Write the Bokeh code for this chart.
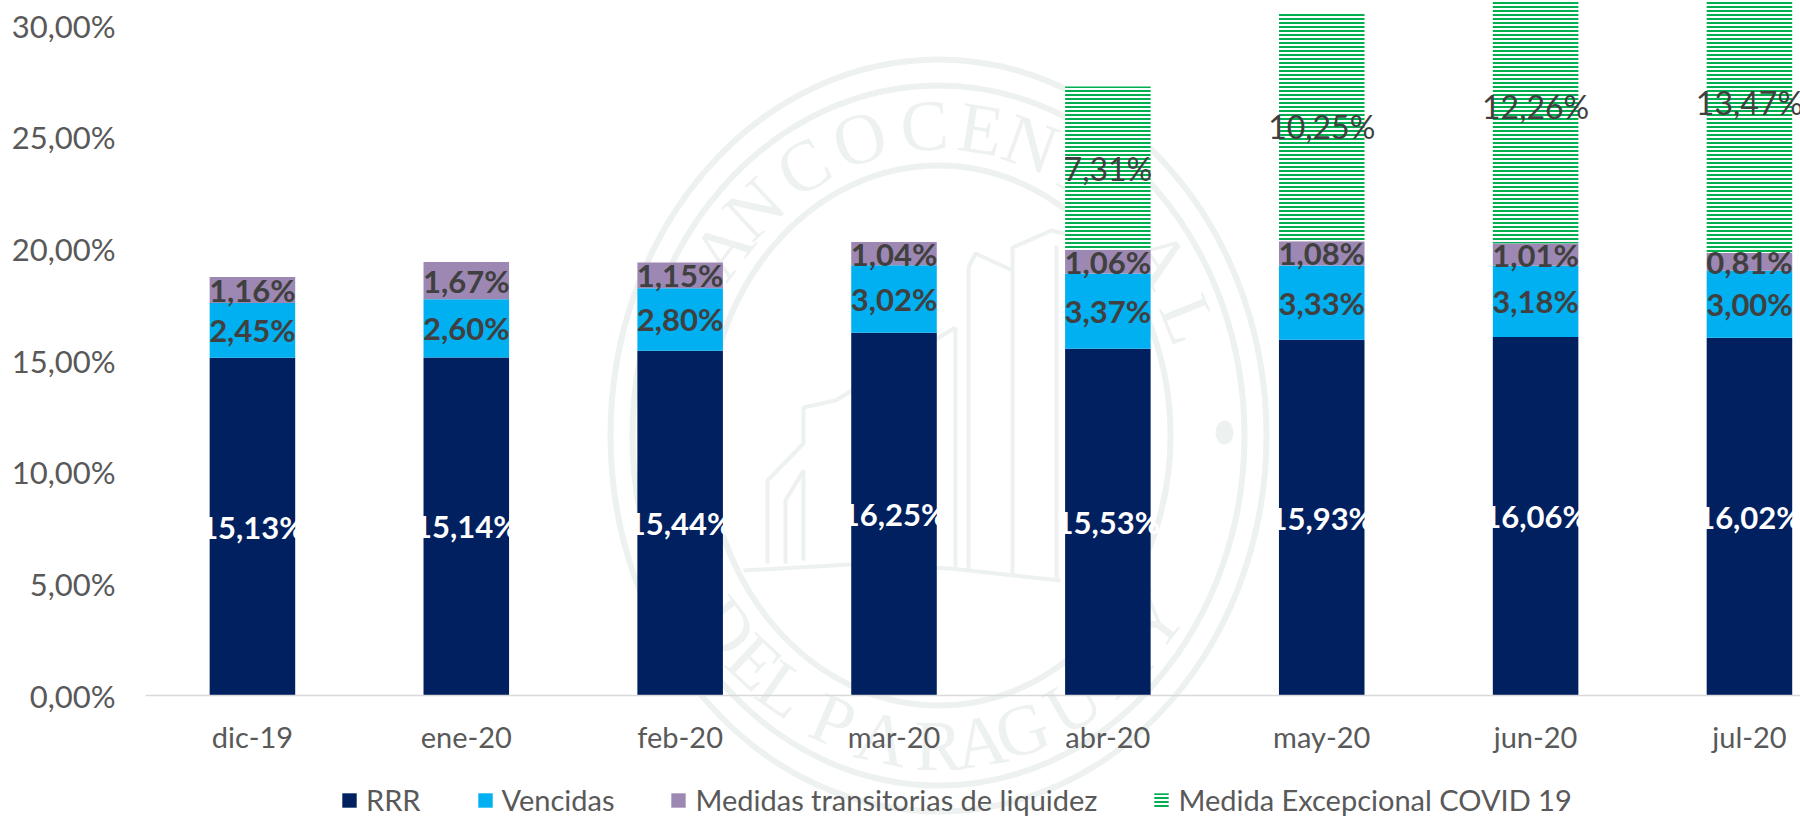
import math
from bokeh.plotting import figure
from bokeh.models import Range1d, FixedTicker, Legend, LegendItem
from bokeh.core.properties import value
from bokeh.embed import file_html
from bokeh.resources import INLINE

categories = ["dic-19", "ene-20", "feb-20", "mar-20", "abr-20", "may-20", "jun-20", "jul-20"]
rrr = [15.13, 15.14, 15.44, 16.25, 15.53, 15.93, 16.06, 16.02]
vencidas = [2.45, 2.60, 2.80, 3.02, 3.37, 3.33, 3.18, 3.00]
medidas = [1.16, 1.67, 1.15, 1.04, 1.06, 1.08, 1.01, 0.81]
covid = [0, 0, 0, 0, 7.31, 10.25, 12.26, 13.47]
y_ticks = [0, 5, 10, 15, 20, 25, 30]
FONT = "Lato"

# geometry of the plot area
W, H = 1800, 817
L_PX, T_PX = 145, 0
FW, FH = W - L_PX, H
Y0_PX, PX_PER_UNIT = 695, 22.33
BAND_PX = 213.86

x_end = FW / BAND_PX
y_end = (Y0_PX - T_PX) / PX_PER_UNIT
y_start = (Y0_PX - (T_PX + FH)) / PX_PER_UNIT

p = figure(width=W, height=H, frame_width=FW, frame_height=FH, output_backend="svg", toolbar_location=None,
           x_range=Range1d(0, x_end), y_range=Range1d(y_start, y_end),
           min_border=0, min_border_left=L_PX, outline_line_color=None, background_fill_color="white", border_fill_color="white")
p.grid.visible = False

def dx(px): return (px - L_PX) / BAND_PX
def dy(px): return (Y0_PX - px) / PX_PER_UNIT

# faint seal behind the chart
SEAL = "#EDF1F0"
CX, CY = 938, 435
for rx, ry, lw in [(328, 376, 6), (306, 350, 6), (232, 270, 6)]:
    p.ellipse(x=[dx(CX)], y=[dy(CY)], width=[2 * rx], height=[2 * ry], width_units="screen", height_units="screen",
              fill_color=None, line_color=SEAL, line_width=lw)
p.ellipse(x=[dx(1224)], y=[dy(432)], width=[18], height=[24], width_units="screen", height_units="screen",
          fill_color=SEAL, line_color=None)
top_letters = list("BANCOCENTRAL")
top_angles = [-64, -53, -43, -30, -17, -3, 9, 20, 31, 42, 55, 68]
bot_letters = list("DELPARAGUAY")
bot_angles = [-52, -43, -35, -23, -12, 0, 9, 18, 30, 42, 53]
TRX, TRY = 270, 310
sx = [dx(CX + TRX * math.sin(math.radians(t))) for t in top_angles] + [dx(CX + TRX * math.sin(math.radians(u))) for u in bot_angles]
sy = [dy(CY - TRY * math.cos(math.radians(t))) for t in top_angles] + [dy(CY + TRY * math.cos(math.radians(u))) for u in bot_angles]
sa = [-math.radians(t) for t in top_angles] + [math.radians(u) for u in bot_angles]
p.text(x=sx, y=sy, text=top_letters + bot_letters, angle=sa, text_font=value("Liberation Serif"), text_font_size="72px",
       text_color=SEAL, text_align="center", text_baseline="middle")
build = [
    [(767, 563), (767, 480), (803, 443), (803, 407), (835, 400), (955, 327)],
    [(785, 563), (785, 500), (803, 470), (803, 560)],
    [(955, 327), (955, 570)], [(968, 267), (968, 570)],
    [(968, 267), (975, 253), (1012, 270), (1012, 247), (1051, 230), (1090, 240)],
    [(1012, 270), (1012, 575)], [(1056, 245), (1056, 580)],
    [(743, 570), (850, 564), (950, 568), (1060, 580)],
]
p.multi_line(xs=[[dx(a) for a, _ in s] for s in build], ys=[[dy(b) for _, b in s] for s in build], line_color=SEAL, line_width=4)

# stacked bars
xs = [i + 0.5 for i in range(len(categories))]
b1 = [0] * len(rrr)
t1 = [a + b for a, b in zip(b1, rrr)]
t2 = [a + b for a, b in zip(t1, vencidas)]
t3 = [a + b for a, b in zip(t2, medidas)]
t4 = [a + b for a, b in zip(t3, covid)]
BW = 0.4
r1 = p.vbar(x=xs, bottom=b1, top=t1, width=BW, fill_color="#002060", line_color=None)
r2 = p.vbar(x=xs, bottom=t1, top=t2, width=BW, fill_color="#00B0F0", line_color=None)
r3 = p.vbar(x=xs, bottom=t2, top=t3, width=BW, fill_color="#9D88B3", line_color=None)
cov = [i for i, v in enumerate(covid) if v > 0]
r4 = p.vbar(x=[xs[i] for i in cov], bottom=[t3[i] for i in cov], top=[t4[i] for i in cov], width=BW,
            fill_color="white", line_color=None, hatch_pattern="horizontal_line", hatch_color="#00B050",
            hatch_scale=4, hatch_weight=2)

def fmt(v):
    return f"{v:.2f}".replace(".", ",") + "%"

def labels(x, lo, hi, vals, color, style, size):
    p.text(x=x, y=[(a + b) / 2 for a, b in zip(lo, hi)], text=[fmt(v) for v in vals], text_color=color,
           text_font=value(FONT), text_font_size=size, text_font_style=style, text_align="center", text_baseline="middle")

labels(xs, b1, t1, rrr, "white", "bold", "31px")
labels(xs, t1, t2, vencidas, "#404040", "bold", "31px")
labels(xs, t2, t3, medidas, "#404040", "bold", "31px")
labels([xs[i] for i in cov], [t3[i] for i in cov], [t4[i] for i in cov], [covid[i] for i in cov], "#404040", "normal", "32px")

# axes
xa = p.xaxis[0]
xa.ticker = FixedTicker(ticks=xs)
xa.major_label_overrides = dict(zip(xs, categories))
xa.fixed_location = 0
xa.axis_line_color = "#D9D9D9"
xa.axis_line_width = 1.5
xa.major_tick_line_color = None
xa.minor_tick_line_color = None
xa.major_label_standoff = 17
xa.major_label_text_font = FONT
xa.major_label_text_font_size = "29px"
xa.major_label_text_color = "#595959"

ya = p.yaxis[0]
ya.ticker = FixedTicker(ticks=y_ticks)
ya.major_label_overrides = {t: f"{t:.2f}".replace(".", ",") + "%" for t in y_ticks}
ya.axis_line_color = None
ya.major_tick_line_color = None
ya.minor_tick_line_color = None
ya.major_label_standoff = 24
ya.major_label_text_font = FONT
ya.major_label_text_font_size = "31px"
ya.major_label_text_color = "#595959"

legend = Legend(items=[LegendItem(label="RRR", renderers=[r1]), LegendItem(label="Vencidas", renderers=[r2]),
                       LegendItem(label="Medidas transitorias de liquidez", renderers=[r3]),
                       LegendItem(label="Medida Excepcional COVID 19", renderers=[r4])],
                orientation="horizontal", location=(340 - L_PX, 0), spacing=55, padding=0, margin=0,
                glyph_width=18, glyph_height=18, label_standoff=8, border_line_color=None, background_fill_color=None,
                background_fill_alpha=0, label_text_font=FONT, label_text_font_size="29px", label_text_color="#595959")
p.add_layout(legend)

open("out.html", "w").write(file_html(p, INLINE))
